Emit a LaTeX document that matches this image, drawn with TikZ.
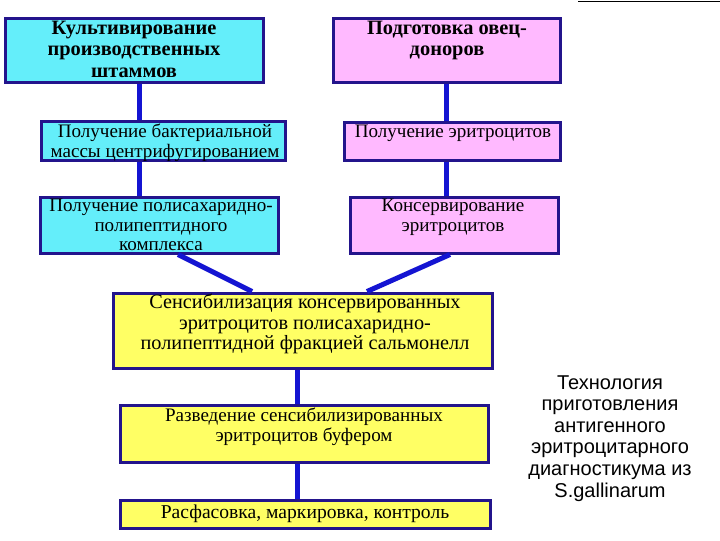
\documentclass[tikz,border=0pt]{standalone}
\usepackage{fontspec}
\setmainfont{Liberation Serif}
\newfontfamily\arialf{Liberation Sans}
\usetikzlibrary{fit}
\definecolor{cyanbox}{RGB}{100,238,250}
\definecolor{pinkbox}{RGB}{255,185,255}
\definecolor{yelbox}{RGB}{255,255,100}
\definecolor{bordc}{RGB}{35,20,140}
\definecolor{linkc}{RGB}{20,20,210}
\begin{document}
\begin{tikzpicture}[x=0.75pt,y=-0.75pt,
  box/.style={draw=bordc,line width=2.25pt,inner sep=0pt},
  txt/.style={align=center,font=\fontsize{14.3}{14.6}\selectfont,inner sep=0pt,anchor=north},
  btxt/.style={txt,font=\fontsize{15.3}{15.9}\selectfont\bfseries},
  link/.style={draw=linkc,line width=3.75pt}]
\useasboundingbox (0,0) rectangle (720,540);
\fill[white] (0,0) rectangle (720,540);
\draw[line width=0.75pt] (578,1) -- (720,1);
% boxes
\node[box,fill=cyanbox,fit={(5,18) (263,82)}] (b1) {};
\node[box,fill=pinkbox,fit={(333,18) (560,82)}] (b2) {};
\node[box,fill=cyanbox,fit={(41,121) (285,160)}] (b3) {};
\node[box,fill=pinkbox,fit={(344,122) (560,160)}] (b4) {};
\node[box,fill=cyanbox,fit={(40,197) (278,253)}] (b5) {};
\node[box,fill=pinkbox,fit={(350,197) (558,253)}] (b6) {};
\node[box,fill=yelbox,fit={(113,293) (492,368)}] (y1) {};
\node[box,fill=yelbox,fit={(120,405) (488,462)}] (y2) {};
\node[box,fill=yelbox,fit={(120,500) (490,528)}] (y3) {};
% texts
\node[btxt] (t1) at (134,21) {Культивирование\\производственных\\штаммов};
\node[btxt] (t2) at (447,21) {Подготовка овец-\\доноров};
\node[txt] (t3) at (165,124) {Получение бактериальной\\массы центрифугированием};
\node[txt] (t4) at (453,125) {Получение эритроцитов};
\node[txt] (t5) at (161,199) {Получение полисахаридно-\\полипептидного\\комплекса};
\node[txt] (t6) at (453,199) {Консервирование\\эритроцитов};
\node[txt,font=\fontsize{15.2}{15.4}\selectfont] (t7) at (305,294) {Сенсибилизация консервированных\\эритроцитов полисахаридно-\\полипептидной фракцией сальмонелл};
\node[txt] (t8) at (304,408) {Разведение сенсибилизированных\\эритроцитов буфером};
\node[txt,font=\fontsize{14.7}{15}\selectfont] (t9) at (305,505) {Расфасовка, маркировка, контроль};
\node[align=center,inner sep=0pt,anchor=north,font=\arialf\fontsize{15}{16.2}\selectfont] (tr) at (610,375)
  {Технология\\приготовления\\антигенного\\эритроцитарного\\диагностикума из\\S.gallinarum};
% connectors
\coordinate (xa) at (139,0);
\coordinate (xb) at (446,0);
\coordinate (xc) at (297,0);
\coordinate (p5) at (178,0);
\coordinate (q5) at (252,0);
\coordinate (p6) at (450,0);
\coordinate (q6) at (367,0);
\draw[link] (b1.south -| xa) -- (b3.north -| xa);
\draw[link] (b3.south -| xa) -- (b5.north -| xa);
\draw[link] (b2.south -| xb) -- (b4.north -| xb);
\draw[link] (b4.south -| xb) -- (b6.north -| xb);
\draw[link] (b5.south -| p5) -- (y1.north -| q5);
\draw[link] (b6.south -| p6) -- (y1.north -| q6);
\draw[link] (y1.south -| xc) -- (y2.north -| xc);
\draw[link] (y2.south -| xc) -- (y3.north -| xc);
\end{tikzpicture}
\end{document}
